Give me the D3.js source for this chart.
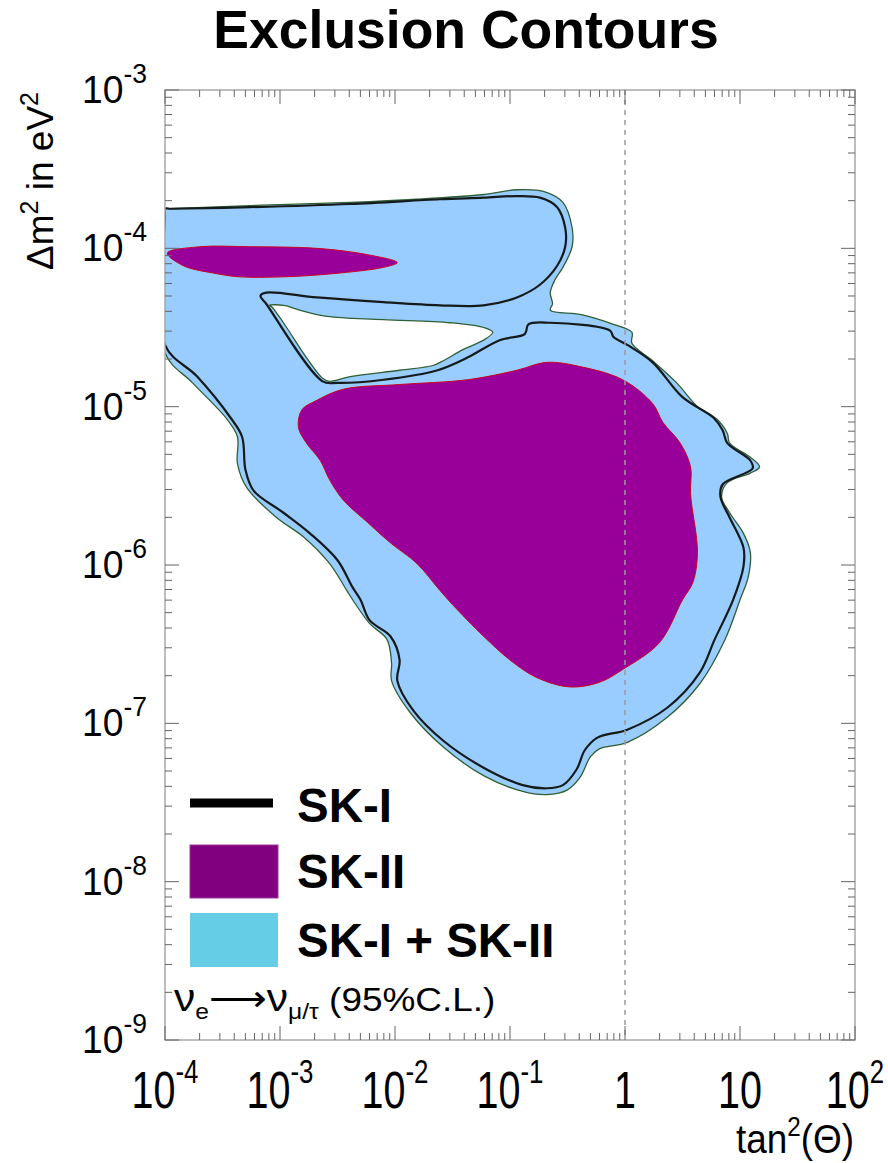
<!DOCTYPE html>
<html>
<head>
<meta charset="utf-8">
<script src="https://cdn.jsdelivr.net/npm/d3@7"></script>
<style>
  body { margin: 0; background: #fff; }
  svg { display: block; }
</style>
</head>
<body>
<div class="contourchart"></div>
<script>
var svgWidth = 888;
var svgHeight = 1163;

var margin = {
  top: 90,
  right: 33,
  bottom: 123,
  left: 165
};

var width = svgWidth - margin.left - margin.right;
var height = svgHeight - margin.top - margin.bottom;

// tick labels (base + exponent)
var xTickValues = [1e-4, 1e-3, 1e-2, 1e-1, 1, 10, 100];
var xTickBase = ["10", "10", "10", "10", "1", "10", "10"];
var xTickSup = ["-4", "-3", "-2", "-1", "", "", "2"];
var yTickValues = [1e-3, 1e-4, 1e-5, 1e-6, 1e-7, 1e-8, 1e-9];
var yTickSup = ["-3", "-4", "-5", "-6", "-7", "-8", "-9"];

// contours, points are [log10 tan^2(theta), log10 dm^2]
var combinedOuter = [
  [-4.00, -3.75], [-3.95, -3.75], [-3.26, -3.73], [-2.39, -3.71], [-1.81, -3.69], [-1.23, -3.66],
  [-0.94, -3.63], [-0.71, -3.64], [-0.54, -3.71], [-0.46, -3.87], [-0.46, -3.99], [-0.54, -4.12],
  [-0.61, -4.20], [-0.65, -4.28], [-0.63, -4.35], [-0.65, -4.39], [-0.37, -4.42], [-0.10, -4.48],
  [0.06, -4.53], [0.06, -4.60], [0.24, -4.71], [0.45, -4.85], [0.63, -5.00], [0.80, -5.08],
  [0.89, -5.17], [0.91, -5.23], [1.09, -5.32], [1.17, -5.38], [1.09, -5.42], [0.89, -5.48],
  [0.84, -5.57], [0.91, -5.67], [1.03, -5.80], [1.09, -5.92], [1.07, -6.08], [1.00, -6.22],
  [0.87, -6.47], [0.65, -6.75], [0.37, -6.96], [0.02, -7.12], [-0.22, -7.16], [-0.30, -7.21],
  [-0.39, -7.34], [-0.50, -7.42], [-0.68, -7.45], [-0.89, -7.43], [-1.23, -7.33], [-1.58, -7.15],
  [-1.87, -6.93], [-2.03, -6.73], [-2.03, -6.62], [-2.07, -6.47], [-2.22, -6.37], [-2.35, -6.24],
  [-2.42, -6.16], [-2.57, -5.99], [-2.80, -5.82], [-3.03, -5.70], [-3.29, -5.51], [-3.37, -5.36],
  [-3.37, -5.19], [-3.46, -5.08], [-3.76, -4.85], [-4.00, -4.66], [-4.00, -3.80]
];

var combinedHole = [
  [-3.09, -4.36], [-2.97, -4.36], [-2.83, -4.39], [-2.59, -4.43], [-2.10, -4.45], [-1.52, -4.47],
  [-1.23, -4.50], [-1.15, -4.53], [-1.23, -4.58], [-1.41, -4.64], [-1.58, -4.71], [-1.67, -4.74],
  [-1.96, -4.77], [-2.39, -4.81], [-2.57, -4.84], [-2.63, -4.82], [-2.77, -4.69], [-2.97, -4.47],
  [-3.07, -4.37]
];

var sk1Contour = [
  [-4.00, -3.75], [-3.95, -3.75], [-3.26, -3.74], [-2.39, -3.72], [-1.61, -3.69], [-1.23, -3.68],
  [-0.94, -3.67], [-0.74, -3.68], [-0.59, -3.74], [-0.52, -3.87], [-0.52, -3.99], [-0.59, -4.11],
  [-0.74, -4.23], [-0.94, -4.31], [-1.23, -4.36], [-1.61, -4.36], [-2.10, -4.34], [-2.68, -4.31],
  [-3.12, -4.28], [-3.17, -4.30], [-3.12, -4.35], [-2.63, -4.84], [-2.50, -4.85], [-2.10, -4.83],
  [-1.63, -4.77], [-1.37, -4.69], [-1.09, -4.58], [-0.87, -4.54], [-0.84, -4.48], [-0.65, -4.47],
  [-0.13, -4.52], [-0.10, -4.56], [0.02, -4.61], [0.24, -4.72], [0.50, -4.94], [0.77, -5.07],
  [0.85, -5.15], [0.89, -5.23], [1.09, -5.34], [1.11, -5.39], [0.85, -5.49], [0.83, -5.57],
  [0.91, -5.70], [1.03, -5.89], [1.03, -6.01], [0.94, -6.22], [0.78, -6.47], [0.65, -6.68],
  [0.37, -6.90], [0.02, -7.04], [-0.24, -7.09], [-0.35, -7.17], [-0.42, -7.29], [-0.54, -7.39],
  [-0.68, -7.41], [-0.89, -7.39], [-1.23, -7.28], [-1.58, -7.11], [-1.84, -6.92], [-1.98, -6.73],
  [-1.96, -6.60], [-2.04, -6.45], [-2.22, -6.35], [-2.30, -6.22], [-2.37, -6.14], [-2.50, -5.97],
  [-2.74, -5.80], [-2.97, -5.67], [-3.23, -5.53], [-3.30, -5.40], [-3.33, -5.19], [-3.43, -5.07],
  [-3.72, -4.81], [-4.00, -4.61], [-4.00, -3.80]
];

var sk2Upper = [
  [-3.98, -4.03], [-3.70, -3.99], [-3.26, -3.99], [-2.68, -4.00], [-2.24, -4.04], [-1.98, -4.09],
  [-2.10, -4.12], [-2.54, -4.16], [-2.97, -4.18], [-3.35, -4.18], [-3.55, -4.16], [-3.84, -4.11]
];

var sk2Main = [
  [-0.68, -4.72], [-0.37, -4.75], [-0.02, -4.83], [0.24, -4.98], [0.33, -5.10], [0.48, -5.23],
  [0.57, -5.38], [0.57, -5.55], [0.63, -5.92], [0.59, -6.11], [0.50, -6.22], [0.30, -6.49],
  [-0.02, -6.66], [-0.22, -6.74], [-0.48, -6.77], [-0.77, -6.71], [-1.00, -6.60], [-1.23, -6.45],
  [-1.50, -6.25], [-1.61, -6.16], [-1.81, -5.99], [-2.04, -5.86], [-2.24, -5.73], [-2.45, -5.59],
  [-2.57, -5.46], [-2.65, -5.34], [-2.77, -5.23], [-2.84, -5.13], [-2.81, -5.02], [-2.68, -4.96],
  [-2.45, -4.89], [-1.96, -4.86], [-1.37, -4.83], [-0.94, -4.77]
];

var legendLabels = ["SK-I", "SK-II", "SK-I + SK-II"];

var font = "'Liberation Sans', Arial, Helvetica, sans-serif";

var svg = d3.select(".contourchart")
  .append("svg")
  .attr("width", svgWidth)
  .attr("height", svgHeight);

var chartGroup = svg.append("g")
  .attr("transform", `translate(${margin.left}, ${margin.top})`);

var xLogScale = d3.scaleLog().domain([1e-4, 1e2]).range([0, width]);
var yLogScale = d3.scaleLog().domain([1e-9, 1e-3]).range([height, 0]);

chartGroup.append("clipPath")
  .attr("id", "plotclip")
  .append("rect")
  .attr("width", width)
  .attr("height", height);

var contourLine = d3.line()
  .x(d => xLogScale(Math.pow(10, d[0])))
  .y(d => yLogScale(Math.pow(10, d[1])))
  .curve(d3.curveCatmullRomClosed.alpha(0.5));

var plotGroup = chartGroup.append("g").attr("clip-path", "url(#plotclip)");

// SK-I + SK-II, with its hole
plotGroup.append("path")
  .attr("d", contourLine(combinedOuter) + contourLine(combinedHole))
  .attr("fill", "#99ccff")
  .attr("fill-rule", "evenodd")
  .attr("stroke", "#2f5f35")
  .attr("stroke-width", 1.3);

// SK-II
[sk2Upper, sk2Main].forEach(function(c) {
  plotGroup.append("path")
    .attr("d", contourLine(c))
    .attr("fill", "#990099")
    .attr("stroke", "#cc0022")
    .attr("stroke-width", 1);
});

// SK-I line
plotGroup.append("path")
  .attr("d", contourLine(sk1Contour))
  .attr("fill", "none")
  .attr("stroke", "#151a1a")
  .attr("stroke-width", 2.2);

// dashed line at tan^2 = 1
chartGroup.append("line")
  .attr("x1", xLogScale(1))
  .attr("x2", xLogScale(1))
  .attr("y1", 0)
  .attr("y2", height)
  .attr("stroke", "#9a9a9a")
  .attr("stroke-width", 1.5)
  .attr("stroke-dasharray", "5,5");

// frame + ticks on all four sides
chartGroup.append("rect")
  .attr("width", width)
  .attr("height", height)
  .attr("fill", "none")
  .attr("stroke", "#a8a8a8")
  .attr("stroke-width", 1.5);

function isMajor(t) {
  var l = Math.log10(t);
  return Math.abs(l - Math.round(l)) < 1e-6;
}

var tickGroup = chartGroup.append("g")
  .attr("stroke", "#666")
  .attr("stroke-width", 1);

xLogScale.ticks().forEach(function(t) {
  var len = isMajor(t) ? 14 : 7;
  var px = xLogScale(t);
  tickGroup.append("line").attr("x1", px).attr("x2", px).attr("y1", height).attr("y2", height - len);
  tickGroup.append("line").attr("x1", px).attr("x2", px).attr("y1", 0).attr("y2", len);
});

yLogScale.ticks().forEach(function(t) {
  var len = isMajor(t) ? 14 : 7;
  var py = yLogScale(t);
  tickGroup.append("line").attr("x1", 0).attr("x2", len).attr("y1", py).attr("y2", py);
  tickGroup.append("line").attr("x1", width).attr("x2", width - len).attr("y1", py).attr("y2", py);
});

// x tick labels
xTickValues.forEach(function(v, i) {
  var g = chartGroup.append("g")
    .attr("transform", `translate(${xLogScale(v)}, ${height + 68}) scale(0.76, 1)`);
  var t = g.append("text")
    .attr("text-anchor", "middle")
    .attr("font-family", font)
    .attr("font-size", 52)
    .attr("fill", "#000");
  t.append("tspan").text(xTickBase[i]);
  if (xTickSup[i]) {
    t.append("tspan").attr("dy", -25).attr("font-size", 34).text(xTickSup[i]);
  }
});

// y tick labels
yTickValues.forEach(function(v, i) {
  var g = chartGroup.append("g")
    .attr("transform", `translate(-18, ${yLogScale(v) + 13}) scale(0.98, 1)`);
  var t = g.append("text")
    .attr("text-anchor", "end")
    .attr("font-family", font)
    .attr("font-size", 38)
    .attr("fill", "#000");
  t.append("tspan").text("10");
  t.append("tspan").attr("dy", -20).attr("font-size", 27).text(yTickSup[i]);
});

// axis titles
var yTitle = svg.append("text")
  .attr("transform", "translate(53, 181) rotate(-90)")
  .attr("text-anchor", "middle")
  .attr("font-family", font)
  .attr("font-size", 37)
  .attr("fill", "#000");
yTitle.append("tspan").text("\u0394m");
yTitle.append("tspan").attr("dy", -15).attr("font-size", 25).text("2");
yTitle.append("tspan").attr("dy", 15).text(" in eV");
yTitle.append("tspan").attr("dy", -15).attr("font-size", 25).text("2");

var xTitleG = svg.append("g")
  .attr("transform", "translate(854, 1153) scale(0.9, 1)");
var xTitle = xTitleG.append("text")
  .attr("text-anchor", "end")
  .attr("font-family", font)
  .attr("font-size", 41)
  .attr("fill", "#000");
xTitle.append("tspan").text("tan");
xTitle.append("tspan").attr("dy", -17).attr("font-size", 27).text("2");
xTitle.append("tspan").attr("dy", 17).text("(\u0398)");

// title
svg.append("text")
  .attr("x", 466)
  .attr("y", 48)
  .attr("text-anchor", "middle")
  .attr("font-family", font)
  .attr("font-weight", "bold")
  .attr("font-size", 53.5)
  .attr("fill", "#000")
  .text("Exclusion Contours");

// legend
var legend = svg.append("g");
legend.append("line")
  .attr("x1", 190).attr("x2", 273)
  .attr("y1", 803).attr("y2", 803)
  .attr("stroke", "#000")
  .attr("stroke-width", 9);
legend.append("rect")
  .attr("x", 190).attr("y", 845).attr("width", 88).attr("height", 53)
  .attr("fill", "#800080")
  .attr("stroke", "#9a3a9a")
  .attr("stroke-width", 1);
legend.append("rect")
  .attr("x", 190).attr("y", 913).attr("width", 88).attr("height", 54)
  .attr("fill", "#66cde6");

var legendY = [822, 888, 957];
legendLabels.forEach(function(l, i) {
  legend.append("text")
    .attr("x", 297)
    .attr("y", legendY[i])
    .attr("font-family", font)
    .attr("font-weight", "bold")
    .attr("font-size", 47.5)
    .attr("fill", "#000")
    .text(l);
});

// channel note
var noteG = svg.append("g").attr("transform", "translate(174, 1011) scale(1.12, 1)");
var note = noteG.append("text")
  .attr("font-family", font)
  .attr("font-size", 33)
  .attr("fill", "#000");
note.append("tspan").attr("font-size", 38).text("\u03bd");
note.append("tspan").attr("dy", 8).attr("font-size", 22).text("e");
note.append("tspan").attr("dy", -8).attr("font-family", "'DejaVu Sans', sans-serif").attr("font-size", 36).text("\u27f6");
note.append("tspan").attr("font-size", 38).text("\u03bd");
note.append("tspan").attr("dy", 8).attr("font-size", 22).text("\u03bc/\u03c4");
note.append("tspan").attr("dy", -8).text(" (95%C.L.)");
</script>
</body>
</html>
